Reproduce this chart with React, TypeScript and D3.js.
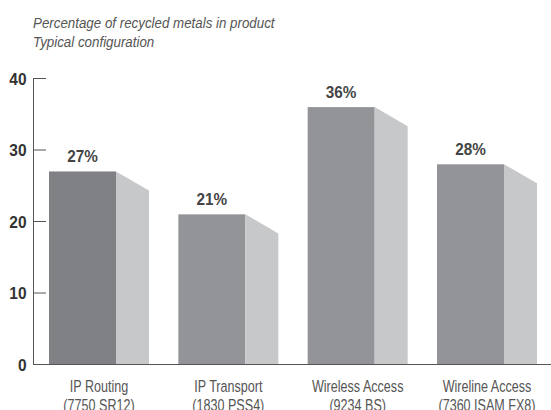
import React from "react";
import * as d3 from "d3";

const categories = ["IP Routing", "IP Transport", "Wireless Access", "Wireline Access"];
const models = ["(7750 SR12)", "(1830 PSS4)", "(9234 BS)", "(7360 ISAM FX8)"];
const values = [27, 21, 36, 28];
const yTicks = [0, 10, 20, 30, 40];
const titleLines = ["Percentage of recycled metals in product", "Typical configuration"];

const W = 551, H = 410;
const FONT = "'Liberation Sans', Arial, sans-serif";

export default function App() {
  const y = d3.scaleLinear().domain([0, 40]).range([364.5, 78.5]);
  const x = d3.scaleBand<string>().domain(categories).range([49, 537]).paddingInner(0.227).paddingOuter(0);
  const bw = x.bandwidth();
  const frontW = bw * 0.67;
  const sideW = bw - frontW;
  const drop = sideW * Math.tan(Math.PI / 6);
  return (
    <svg width={W} height={H} style={{ position: "absolute", left: 0, top: 0 }}>
      <g fontFamily={FONT} fontStyle="italic" fontSize={14.5} fill="#555">
        {titleLines.map((t, i) => (
          <text key={i} transform={`translate(33,${28 + i * 19}) scale(0.92,1)`}>{t}</text>
        ))}
      </g>
      {categories.map((c, i) => {
        const x0 = x(c)!;
        const yt = y(values[i]);
        const yb = y(0);
        return (
          <g key={c}>
            <rect x={x0} y={yt} width={frontW} height={yb - yt} fill={i === 0 ? "#808185" : "#939498"} />
            <path d={`M${x0 + frontW},${yt} L${x0 + bw},${yt + drop} L${x0 + bw},${yb} L${x0 + frontW},${yb} Z`} fill="#c7c8ca" />
            <text transform={`translate(${x0 + frontW / 2},${yt - 9}) scale(0.9,1)`} textAnchor="middle" fontFamily={FONT} fontWeight="bold" fontSize={17} fill="#444">{values[i]}%</text>
            <text transform={`translate(${x0 + bw / 2},392) scale(0.74,1)`} textAnchor="middle" fontFamily={FONT} fontSize={17} fill="#555">{c}</text>
            <text transform={`translate(${x0 + bw / 2},411) scale(0.74,1)`} textAnchor="middle" fontFamily={FONT} fontSize={17} fill="#555">{models[i]}</text>
          </g>
        );
      })}
      <line x1={33.5} x2={33.5} y1={78} y2={365} stroke="#555" strokeWidth={1} />
      <line x1={33} x2={W} y1={364.5} y2={364.5} stroke="#555" strokeWidth={1.2} />
      {yTicks.map((t) => (
        <g key={t}>
          {t > 0 && <line x1={33.5} x2={46} y1={y(t)} y2={y(t)} stroke="#555" strokeWidth={1} />}
          <text transform={`translate(26.5,${y(t) + 6}) scale(0.91,1)`} textAnchor="end" fontFamily={FONT} fontWeight="bold" fontSize={17} fill="#333">{t}</text>
        </g>
      ))}
    </svg>
  );
}
